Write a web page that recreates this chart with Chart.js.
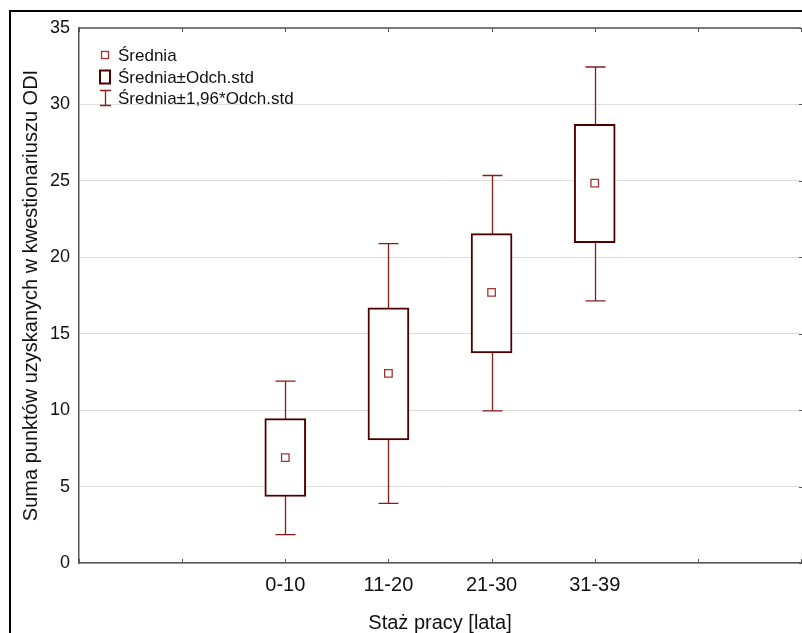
<!DOCTYPE html>
<html>
<head>
<meta charset="utf-8">
<script src="https://cdn.jsdelivr.net/npm/chart.js@4.4.1/dist/chart.umd.min.js"></script>
<style>
    html, body { margin: 0; padding: 0; background: #fff; }
    #wrap { width: 802px; height: 633px; position: relative; }
</style>
</head>
<body>
<div id="wrap"><canvas id="odiChart"></canvas></div>
<script>
// values
const groups = ["0-10", "11-20", "21-30", "31-39"];
const means = [6.9, 12.4, 17.7, 24.85];
const sdLow = [4.35, 8.05, 13.75, 20.95];
const sdHigh = [9.45, 16.7, 21.55, 28.7];
const ciLow = [1.85, 3.9, 9.95, 17.15];
const ciHigh = [11.9, 20.9, 25.35, 32.45];
const yTicks = [0, 5, 10, 15, 20, 25, 30, 35];
const legendLabels = ["Średnia", "Średnia±Odch.std", "Średnia±1,96*Odch.std"];
const xTitle = "Staż pracy [lata]";
const yTitle = "Suma punktów uzyskanych w kwestionariuszu ODI";

// two empty slots on each side of the groups, like the original axis
const labels = ["", "", ...groups, "", ""];
const pad = (arr) => [null, null, ...arr, null, null];

const boxColor = "#4d0000";
const whiskerColor = "#8b1a1a";
const meanColor = "#a53333";
const axisColor = "#555555";
const font = "Liberation Sans, Arial, sans-serif";

// whiskers (behind the boxes), frame, inward ticks and legend
const extras = {
    id: "extras",
    beforeDatasetsDraw(chart) {
        const ctx = chart.ctx;
        const x = chart.scales.x;
        const y = chart.scales.y;
        ctx.save();
        ctx.strokeStyle = whiskerColor;
        ctx.lineWidth = 1.3;
        groups.forEach((g, i) => {
            const px = Math.round(x.getPixelForValue(i + 2)) + 0.5;
            const top = y.getPixelForValue(ciHigh[i]);
            const bot = y.getPixelForValue(ciLow[i]);
            ctx.beginPath();
            ctx.moveTo(px, top);
            ctx.lineTo(px, bot);
            ctx.moveTo(px - 10, top);
            ctx.lineTo(px + 10, top);
            ctx.moveTo(px - 10, bot);
            ctx.lineTo(px + 10, bot);
            ctx.stroke();
        });
        ctx.restore();
    },
    afterDraw(chart) {
        const ctx = chart.ctx;
        const a = chart.chartArea;
        const x = chart.scales.x;
        const y = chart.scales.y;
        ctx.save();
        // top axis line
        ctx.strokeStyle = axisColor;
        ctx.lineWidth = 1.5;
        ctx.beginPath();
        ctx.moveTo(a.left, a.top);
        ctx.lineTo(a.right, a.top);
        ctx.stroke();
        // inward category ticks, top and bottom
        ctx.lineWidth = 1;
        for (let i = 0; i < labels.length; i++) {
            const px = Math.round(x.getPixelForValue(i)) + 0.5;
            ctx.beginPath();
            ctx.moveTo(px, a.top);
            ctx.lineTo(px, a.top + 4);
            ctx.moveTo(px, a.bottom);
            ctx.lineTo(px, a.bottom - 4);
            ctx.stroke();
        }
        // small ticks on the right edge
        yTicks.forEach((v) => {
            const py = Math.round(y.getPixelForValue(v)) + 0.5;
            ctx.beginPath();
            ctx.moveTo(a.right - 2, py);
            ctx.lineTo(a.right + 1, py);
            ctx.stroke();
        });
        // outer frame
        ctx.strokeStyle = "#000";
        ctx.lineWidth = 2;
        ctx.beginPath();
        ctx.moveTo(10, 633);
        ctx.lineTo(10, 11);
        ctx.lineTo(802, 11);
        ctx.stroke();

        // legend
        const lx = 105;
        const rows = [55, 77, 98];
        ctx.strokeStyle = meanColor;
        ctx.lineWidth = 1.3;
        ctx.strokeRect(lx - 3.5, rows[0] - 3.5, 7, 7);
        ctx.strokeStyle = boxColor;
        ctx.lineWidth = 2;
        ctx.strokeRect(lx - 5, rows[1] - 6.5, 10, 13);
        ctx.strokeStyle = whiskerColor;
        ctx.lineWidth = 1.3;
        ctx.beginPath();
        ctx.moveTo(lx + 0.5, rows[2] - 7.5);
        ctx.lineTo(lx + 0.5, rows[2] + 7.5);
        ctx.moveTo(lx - 5, rows[2] - 7.5);
        ctx.lineTo(lx + 6, rows[2] - 7.5);
        ctx.moveTo(lx - 5, rows[2] + 7.5);
        ctx.lineTo(lx + 6, rows[2] + 7.5);
        ctx.stroke();
        ctx.fillStyle = "#111";
        ctx.font = "17px " + font;
        ctx.textBaseline = "middle";
        legendLabels.forEach((t, i) => ctx.fillText(t, 118, rows[i] + 1));
        ctx.restore();
    }
};

new Chart(document.getElementById("odiChart"), {
    type: "bar",
    data: {
        labels: labels,
        datasets: [
            {
                type: "line",
                label: legendLabels[0],
                data: pad(means),
                showLine: false,
                pointStyle: "rect",
                pointRadius: 5.3,
                pointBorderWidth: 1.3,
                pointBorderColor: meanColor,
                pointBackgroundColor: "#fff",
                order: 1
            },
            {
                label: legendLabels[1],
                data: pad(groups.map((g, i) => [sdLow[i], sdHigh[i]])),
                backgroundColor: "#fff",
                borderColor: boxColor,
                borderWidth: 2,
                borderSkipped: false,
                barThickness: 41,
                order: 2
            }
        ]
    },
    options: {
        responsive: true,
        maintainAspectRatio: false,
        animation: false,
        layout: { autoPadding: false, padding: { left: 0, top: 28, right: 1, bottom: 0 } },
        plugins: {
            legend: { display: false },
            tooltip: { enabled: false }
        },
        scales: {
            x: {
                type: "category",
                offset: false,
                grid: { drawOnChartArea: false, drawTicks: false },
                border: { color: axisColor, width: 1.5 },
                ticks: {
                    autoSkip: false,
                    maxRotation: 0,
                    padding: 10,
                    color: "#111",
                    font: { family: font, size: 20 }
                },
                title: {
                    display: true,
                    text: xTitle,
                    color: "#111",
                    font: { family: font, size: 20 },
                    padding: { top: 0, bottom: -2 }
                },
                afterFit: (s) => {
                    s.height = 70;
                    s.paddingLeft = 0;
                    s.paddingRight = 0;
                }
            },
            y: {
                min: 0,
                max: 35,
                afterBuildTicks: (s) => { s.ticks = yTicks.map((v) => ({ value: v })); },
                grid: { color: "#dddddd", lineWidth: 1, drawTicks: false },
                border: { color: axisColor, width: 1.5 },
                ticks: {
                    padding: 9,
                    color: "#111",
                    font: { family: font, size: 18 }
                },
                title: {
                    display: true,
                    text: yTitle,
                    color: "#111",
                    font: { family: font, size: 20 },
                    padding: { top: 19, bottom: 0 }
                },
                afterFit: (s) => {
                    s.width = 79;
                    s.paddingTop = 0;
                    s.paddingBottom = 0;
                }
            }
        }
    },
    plugins: [extras]
});
</script>
</body>
</html>
